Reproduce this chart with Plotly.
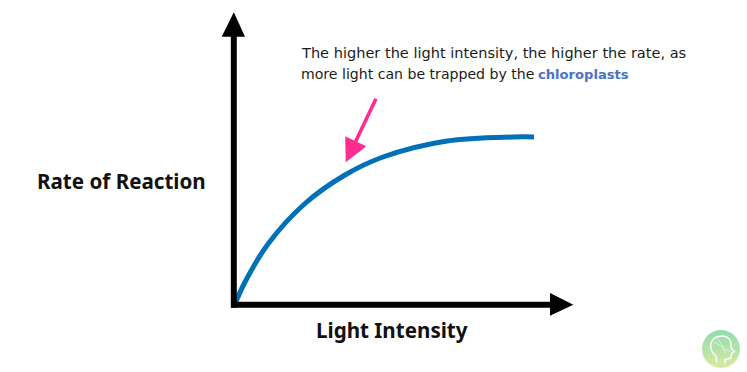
import plotly.graph_objects as go

# x = light intensity, y = rate of reaction (arbitrary units)
light_intensity = [2, 12, 35, 72, 112, 150, 214, 280, 301]
reaction_rate = [0, 22, 60, 100.5, 129, 147, 163, 167, 167]

x_label = "Light Intensity"
y_label = "Rate of Reaction"
note_lines = ["The higher the light intensity, the higher the rate, as",
              "more light can be trapped by the"]
note_highlight = "chloroplasts"
LABEL_FONT = "Noto Sans"
NOTE_FONT = "DejaVu Sans"

fig = go.Figure()
fig.add_trace(go.Scatter(x=light_intensity, y=reaction_rate, mode="lines",
                         line=dict(color="#0070b8", width=5, shape="spline", smoothing=1),
                         hoverinfo="skip", showlegend=False))

# axes with arrow heads
fig.add_shape(type="line", x0=-2, x1=320, y0=-0.7, y1=-0.7, line=dict(color="black", width=6))
fig.add_shape(type="line", x0=0.8, x1=0.8, y0=-3.7, y1=270, line=dict(color="black", width=6))
fig.add_shape(type="path", path="M 317 11 L 340.3 -0.7 L 317 -11.7 Z", fillcolor="black", line_width=0)
fig.add_shape(type="path", path="M -11.3 267.3 L 0.8 291.7 L 12 267.3 Z", fillcolor="black", line_width=0)

# pink pointer
fig.add_annotation(x=112.7, y=141.7, ax=143.7, ay=206.7, xref="x", yref="y", axref="x", ayref="y",
                   text="", showarrow=True, arrowhead=2, arrowsize=1.3, arrowwidth=3.6,
                   arrowcolor="#ff2d92")

fig.add_annotation(x=-25, y=123, text=f"<b>{y_label}</b>", showarrow=False, xanchor="right",
                   font=dict(family=LABEL_FONT, size=20.6, color="#111"))
fig.add_annotation(x=159, y=-26, text=f"<b>{x_label}</b>", showarrow=False,
                   font=dict(family=LABEL_FONT, size=20.6, color="#111"))
fig.add_annotation(x=66, y=252, text=note_lines[0], showarrow=False, xanchor="left",
                   font=dict(family=NOTE_FONT, size=14.55, color="#1a1a1a"))
fig.add_annotation(x=66, y=230, text=note_lines[1], showarrow=False, xanchor="left",
                   font=dict(family=NOTE_FONT, size=14.1, color="#1a1a1a"))
fig.add_annotation(x=303, y=230, text=f"<b>{note_highlight}</b>", showarrow=False, xanchor="left",
                   font=dict(family=NOTE_FONT, size=13.1, color="#4a72c4"))

# logo badge
fig.add_trace(go.Scatter(x=[488], y=[-45], mode="markers", hoverinfo="skip", showlegend=False,
                         marker=dict(size=38, color="#8edcb0", line_width=0,
                                     gradient=dict(type="vertical", color="#d9ea9e"))))
fig.add_shape(type="path",
              path="M 483.7 -58.7 L 483 -52 C 479 -49 477 -44 478 -39 C 480 -34 484 -32 489 -32 "
                   "C 494 -32 497 -35 498 -39 L 498 -44 L 501.3 -47.7 L 498.7 -49.3 L 497.7 -54.3 "
                   "L 492 -55.3 L 492 -59.3",
              line=dict(color="white", width=1.4))
fig.add_shape(type="path", path="M 481 -38 C 488 -41 490 -46 497 -47 M 484 -34 C 488 -40 491 -42 492 -49",
              line=dict(color="rgba(255,255,255,0.6)", width=1))

fig.update_layout(width=747, height=372, margin=dict(l=0, r=0, t=0, b=0), autosize=False,
                  paper_bgcolor="white", plot_bgcolor="white", showlegend=False,
                  xaxis=dict(range=[-233, 514], visible=False, fixedrange=True),
                  yaxis=dict(range=[-68, 304], visible=False, fixedrange=True))
fig.write_html("out.html", config={"displayModeBar": False},
               post_script="document.body.style.margin='0';document.body.style.overflow='hidden';")
